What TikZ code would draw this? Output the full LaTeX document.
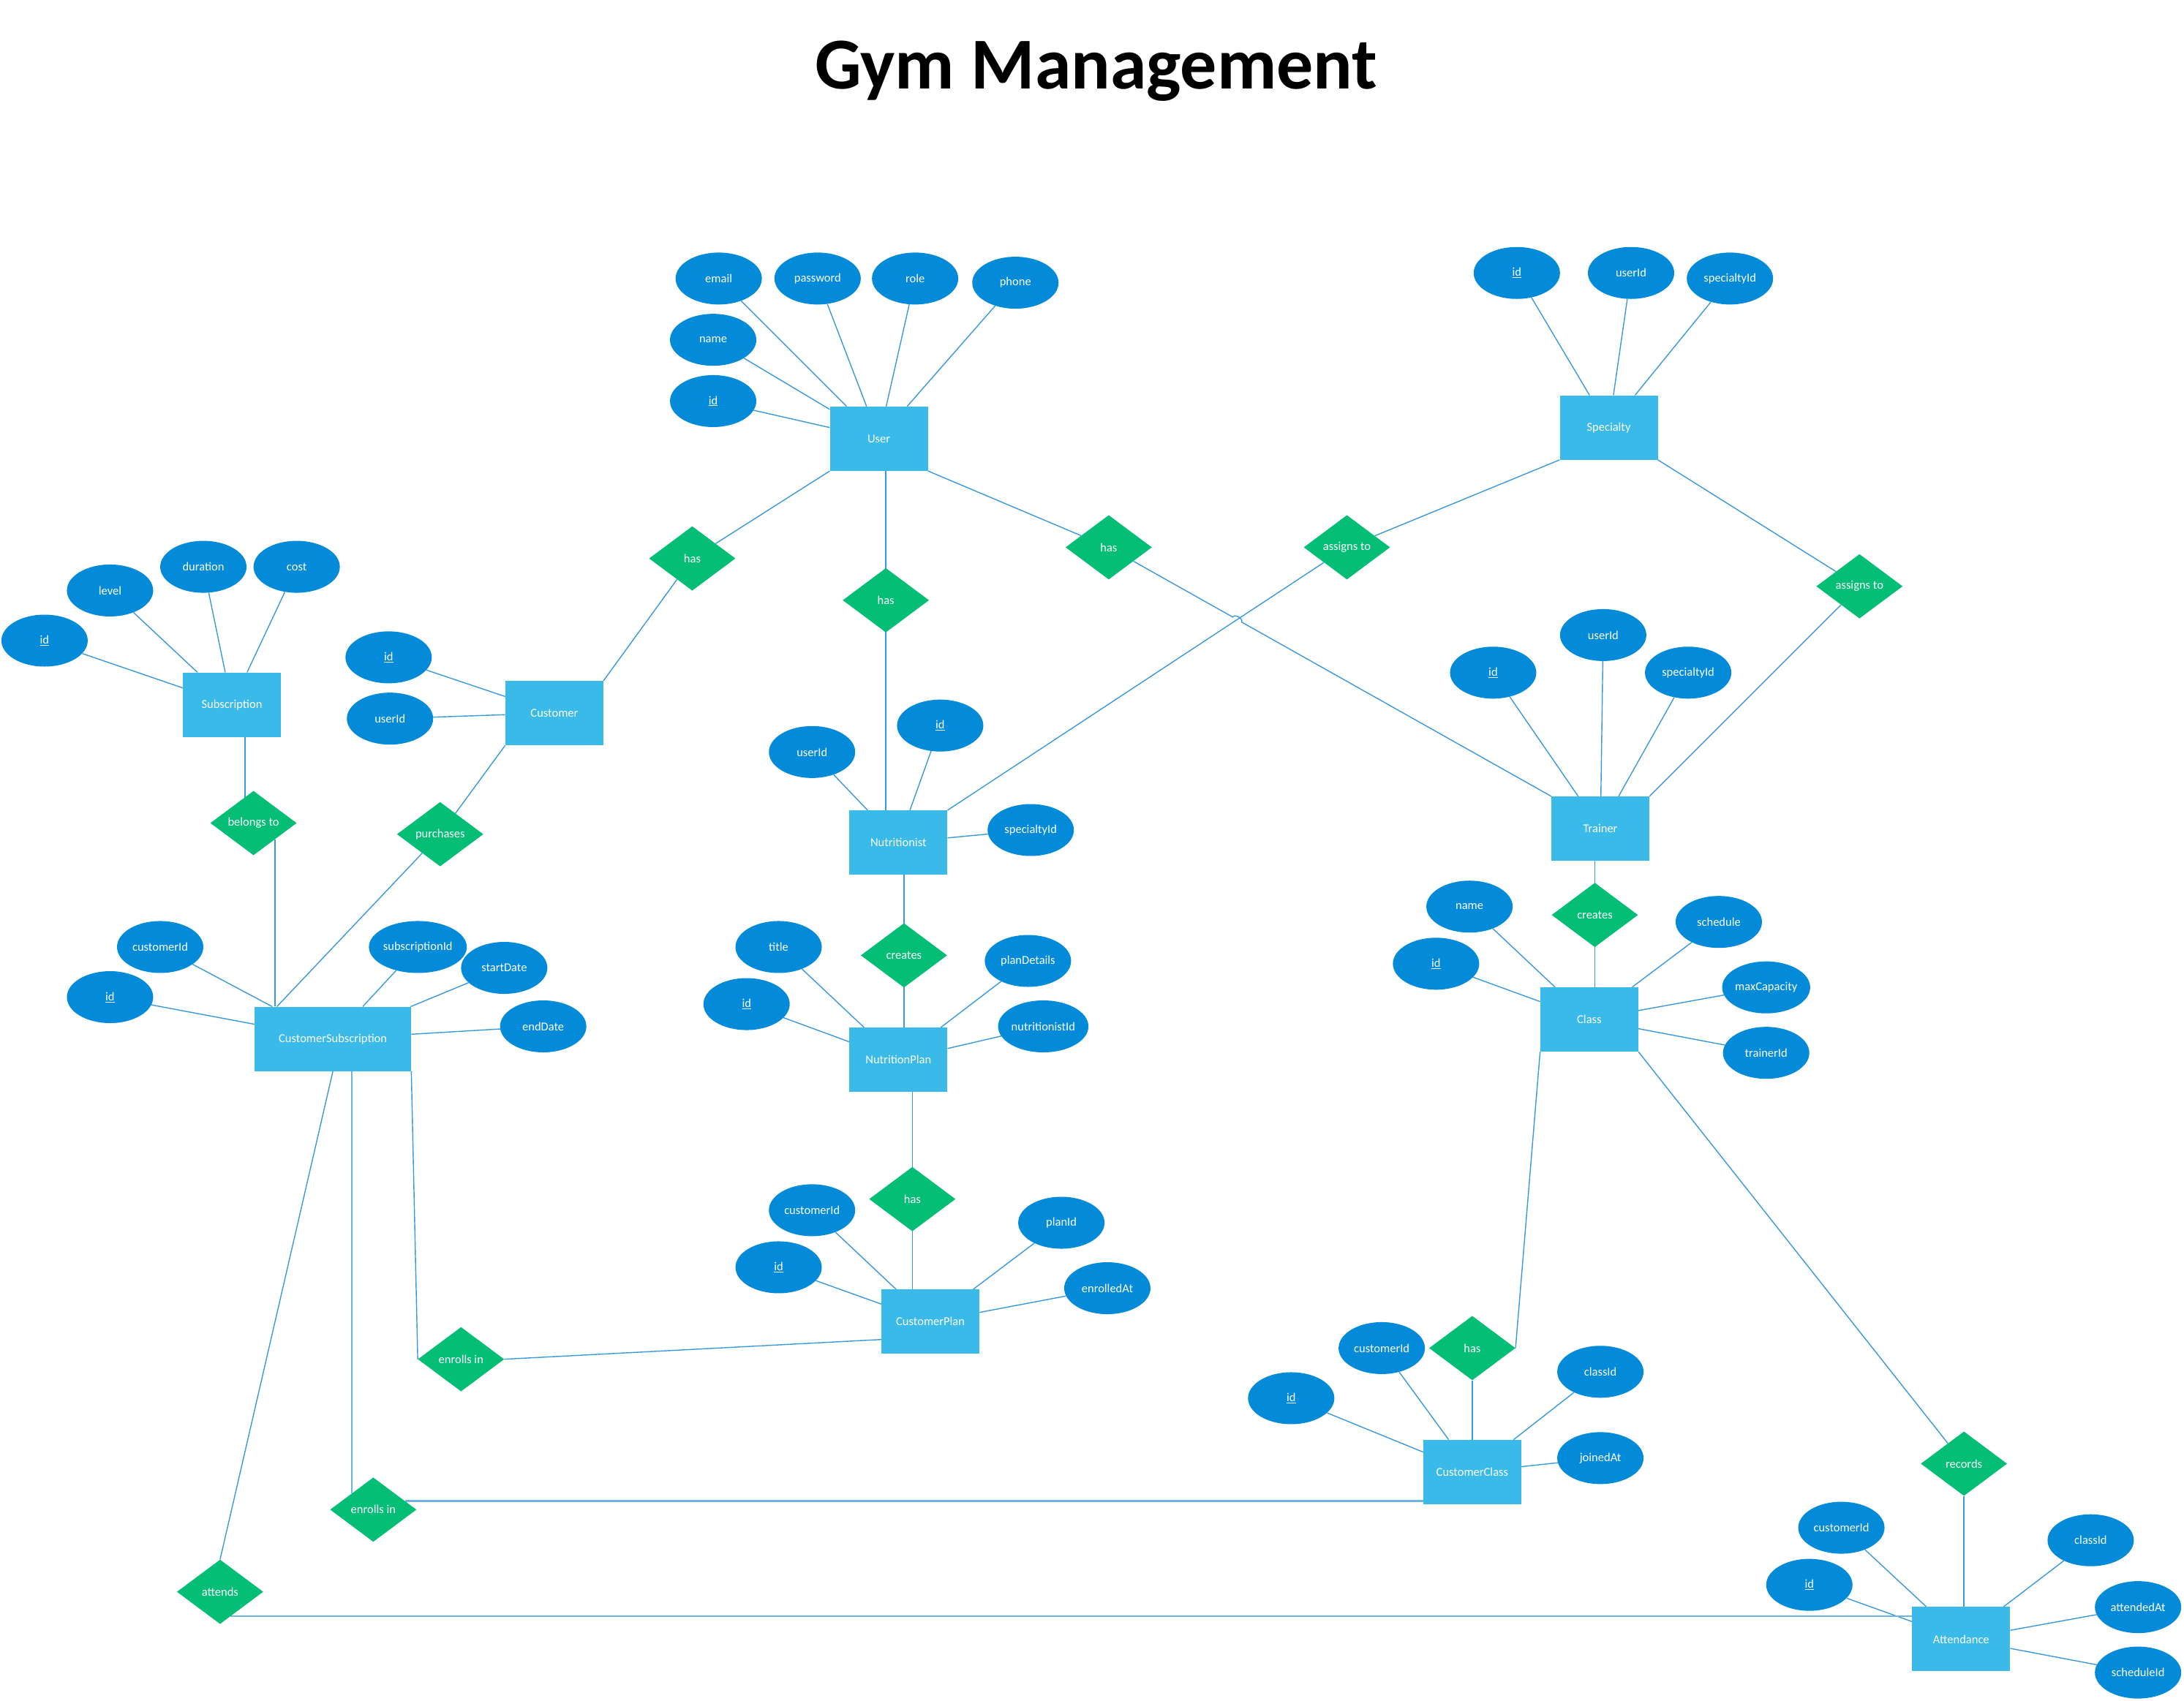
\documentclass[tikz,border=0pt]{standalone}
\usepackage{fontspec}
\setmainfont{Carlito}
\usetikzlibrary{shapes.geometric,calc,intersections,backgrounds}

\definecolor{entfill}{RGB}{58,186,232}
\definecolor{attfill}{RGB}{3,139,217}
\definecolor{relfill}{RGB}{5,190,117}
\definecolor{linecol}{RGB}{58,152,220}
\definecolor{linelight}{RGB}{110,180,226}

\tikzset{
  entity/.style={rectangle,fill=entfill,text=white,minimum width=134pt,minimum height=88pt,inner sep=0pt},
  attr/.style={ellipse,fill=attfill,text=white,minimum width=118pt,minimum height=71pt,inner sep=0pt},
  rel/.style={diamond,fill=relfill,text=white,minimum width=118pt,minimum height=88pt,inner sep=0pt},
  conn/.style={draw=linecol,line width=1.4pt},
  connlight/.style={draw=linelight,line width=2.4pt}
}

\begin{document}
\begin{tikzpicture}[x=1.9043pt,y=-1.9043pt,font=\fontsize{16.5}{20}\selectfont]
\useasboundingbox (0,0) rectangle (1568,1221);

\node[font=\fontsize{100}{110}\selectfont\bfseries] (title) at (787,51) {Gym Management};

% entities
\node[entity] (user) at (631,315) {User};
\node[entity] (spec) at (1155,307) {Specialty};
\node[entity] (subs) at (166.5,506) {Subscription};
\node[entity] (cust) at (398,512) {Customer};
\node[entity] (nutr) at (645,605) {Nutritionist};
\node[entity] (trn) at (1149,595) {Trainer};
\node[entity,minimum width=214pt] (csub) at (239,746) {CustomerSubscription};
\node[entity] (nplan) at (645,761) {NutritionPlan};
\node[entity] (cls) at (1141,732) {Class};
\node[entity] (cplan) at (668,949) {CustomerPlan};
\node[entity] (ccls) at (1057,1057) {CustomerClass};
\node[entity] (att) at (1408,1177) {Attendance};

% relationships
\node[rel] (hascust) at (497,401) {has};
\node[rel] (hasnutr) at (636,431) {has};
\node[rel] (hastrn) at (796,393) {has};
\node[rel] (asgnutr) at (967,393) {assigns to};
\node[rel] (asgtrn) at (1335,421) {assigns to};
\node[rel] (belongs) at (182,591) {belongs to};
\node[rel] (purch) at (316,599) {purchases};
\node[rel] (crtplan) at (649,686) {creates};
\node[rel] (crtcls) at (1145,657) {creates};
\node[rel] (hasplan) at (655,861) {has};
\node[rel] (hascls) at (1057,968) {has};
\node[rel] (enrplan) at (331,976) {enrolls in};
\node[rel] (enrcls) at (268,1084) {enrolls in};
\node[rel] (attends) at (158,1143) {attends};
\node[rel] (records) at (1410,1051) {records};

% attributes
\node[attr] (uemail) at (516,200) {email};
\node[attr] (upass) at (587,200) {password};
\node[attr] (urole) at (657,200) {role};
\node[attr] (uphone) at (729,203) {phone};
\node[attr] (uname) at (512,244) {name};
\node[attr] (uid) at (512,288) {\underline{id}};

\node[attr] (sid) at (1089,196) {\underline{id}};
\node[attr] (suser) at (1171,196) {userId};
\node[attr] (sspec) at (1242,200) {specialtyId};

\node[attr] (bid) at (32,460) {\underline{id}};
\node[attr] (blevel) at (79,424) {level};
\node[attr] (bdur) at (146,407) {duration};
\node[attr] (bcost) at (213,407) {cost};

\node[attr] (cid) at (279,472) {\underline{id}};
\node[attr] (cuser) at (280,516) {userId};

\node[attr] (nuser) at (583,540) {userId};
\node[attr] (nid) at (675,521) {\underline{id}};
\node[attr] (nspec) at (740,596) {specialtyId};

\node[attr] (tid) at (1072,483) {\underline{id}};
\node[attr] (tuser) at (1151,456) {userId};
\node[attr] (tspec) at (1212,483) {specialtyId};

\node[attr] (kcust) at (115,680) {customerId};
\node[attr] (kid) at (79,716) {\underline{id}};
\node[attr] (ksub) at (300,680) {subscriptionId};
\node[attr] (kstart) at (362,695) {startDate};
\node[attr] (kend) at (390,737) {endDate};

\node[attr] (ptitle) at (559,680) {title};
\node[attr] (pid) at (536,721) {\underline{id}};
\node[attr] (pdet) at (738,690) {planDetails};
\node[attr] (pnid) at (749,737) {nutritionistId};

\node[attr] (lname) at (1055,651) {name};
\node[attr] (lid) at (1031,692) {\underline{id}};
\node[attr] (lsched) at (1234,662) {schedule};
\node[attr] (lmax) at (1268,709) {maxCapacity};
\node[attr] (ltrn) at (1268,756) {trainerId};

\node[attr] (qcust) at (583,869) {customerId};
\node[attr] (qid) at (559,910) {\underline{id}};
\node[attr] (qplan) at (762,878) {planId};
\node[attr] (qenr) at (795,925) {enrolledAt};

\node[attr] (rcust) at (992,968) {customerId};
\node[attr] (rid) at (927,1004) {\underline{id}};
\node[attr] (rcls) at (1149,985) {classId};
\node[attr] (rjoin) at (1149,1047) {joinedAt};

\node[attr] (acust) at (1322,1097) {customerId};
\node[attr] (aid) at (1299,1138) {\underline{id}};
\node[attr] (acls) at (1501,1106) {classId};
\node[attr] (aat) at (1535,1154) {attendedAt};
\node[attr] (asched) at (1535,1201) {scheduleId};

\begin{scope}[on background layer]
% attribute links
\foreach \a in {uemail,upass,urole,uphone,uname,uid} \draw[conn] (\a) -- (user);
\foreach \a in {sid,suser,sspec} \draw[conn] (\a) -- (spec);
\foreach \a in {bid,blevel,bdur,bcost} \draw[conn] (\a) -- (subs);
\foreach \a in {cid,cuser} \draw[conn] (\a) -- (cust);
\foreach \a in {nuser,nid,nspec} \draw[conn] (\a) -- (nutr);
\foreach \a in {tid,tuser,tspec} \draw[conn] (\a) -- (trn);
\foreach \a in {kcust,kid,ksub,kstart,kend} \draw[conn] (\a) -- (csub);
\foreach \a in {ptitle,pid,pdet,pnid} \draw[conn] (\a) -- (nplan);
\foreach \a in {lname,lid,lsched,lmax,ltrn} \draw[conn] (\a) -- (cls);
\foreach \a in {qcust,qid,qplan,qenr} \draw[conn] (\a) -- (cplan);
\foreach \a in {rcust,rid,rcls,rjoin} \draw[conn] (\a) -- (ccls);
\foreach \a in {acust,aid,acls,aat,asched} \draw[conn] (\a) -- (att);

% relationship links
\draw[conn] (user.south west) -- (hascust);
\draw[conn] (hascust) -- (cust.north east);
\draw[conn] (hasnutr.north |- user.south) -- (hasnutr.south |- nutr.north);
\draw[conn] (user.south east) -- (hastrn);
\draw[conn] (spec.south west) -- (asgnutr);
\draw[conn, name path=nutrline] (asgnutr) -- (nutr.north east);
\draw[conn] (spec.south east) -- (asgtrn);
\draw[conn] (asgtrn) -- (trn.north east);

\path[name path=trnline] (hastrn) -- (trn.north west);
\path[name intersections={of=trnline and nutrline,by=jmp}];
\draw[conn] (hastrn) -- ($(jmp)!7pt!(hastrn)$) to[bend left=90] ($(jmp)!7pt!(trn.north west)$) -- (trn.north west);

\draw[conn] (subs.-68) -- (subs.-68 |- belongs.center);
\draw[conn] (belongs.-37) -- (belongs.-37 |- csub.north);
\draw[conn] (cust.south west) -- (purch);
\draw[conn] (purch) -- (csub.150);
\draw[conn] (crtplan.north |- nutr.south) -- (crtplan.south |- nplan.north);
\draw[conn] (crtcls.north |- trn.south) -- (crtcls.south |- cls.north);
\draw[conn] (hasplan.north |- nplan.south) -- (hasplan.south |- cplan.north);
\draw[conn] (cls.south west) -- (hascls.east);
\draw[conn] (hascls.south) -- (hascls.south |- ccls.north);
\draw[conn] (cls.south east) -- (records);
\draw[conn] (records.south) -- (records.south |- att.north);
\draw[conn] (csub.south east) -- (enrplan.west);
\draw[conn] (enrplan.east) -- (cplan.200);
\draw[connlight] (enrcls.north west |- csub.south) -- (enrcls.north west);
\draw[connlight] (enrcls.15) -- (enrcls.15 -| ccls.west);
\draw[conn] (csub.south) -- (attends.north);
\draw[connlight] (attends.-67) -- (attends.-67 -| att.west);
\end{scope}

\end{tikzpicture}
\end{document}
